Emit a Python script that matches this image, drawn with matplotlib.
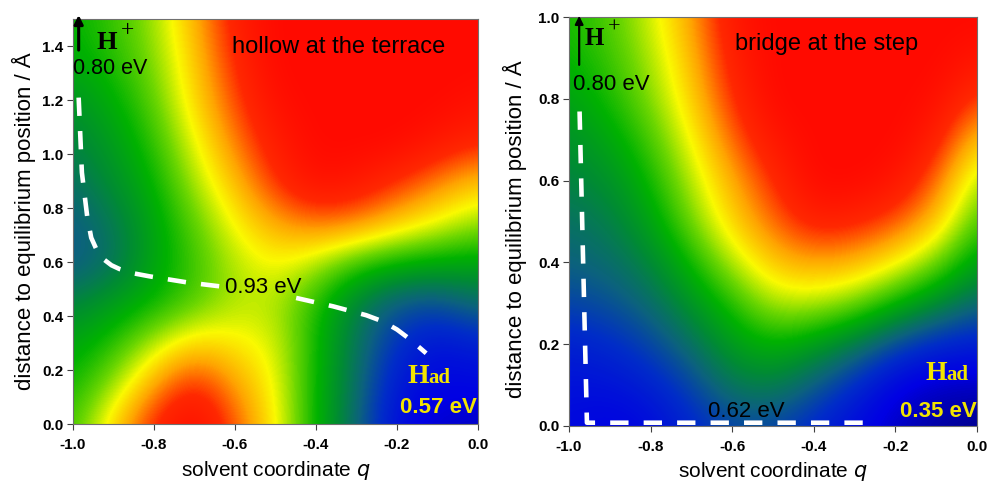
import numpy as np
import matplotlib
matplotlib.use("Agg")
import matplotlib.pyplot as plt
from matplotlib.colors import LinearSegmentedColormap

# ---------------- data ----------------
q_grid = [-1.0, -0.9, -0.8, -0.7, -0.6, -0.5, -0.4, -0.3, -0.2, -0.1, 0.0]

# hollow at the terrace: rows d = 0.00, 0.15, ..., 1.50 (relative energy 0..1)
hollow_d = [0.0, 0.15, 0.30, 0.45, 0.60, 0.75, 0.90, 1.05, 1.20, 1.35, 1.50]
hollow_energy = [
    [0.50, 0.70, 0.90, 1.00, 0.84, 0.66, 0.45, 0.28, 0.10, 0.06, 0.05],
    [0.46, 0.57, 0.76, 0.90, 0.76, 0.65, 0.45, 0.30, 0.13, 0.09, 0.10],
    [0.42, 0.48, 0.60, 0.70, 0.67, 0.63, 0.46, 0.31, 0.18, 0.12, 0.15],
    [0.34, 0.40, 0.45, 0.52, 0.60, 0.60, 0.48, 0.34, 0.25, 0.23, 0.30],
    [0.25, 0.30, 0.42, 0.50, 0.60, 0.66, 0.60, 0.50, 0.45, 0.43, 0.42],
    [0.26, 0.32, 0.42, 0.53, 0.66, 0.76, 0.82, 0.80, 0.72, 0.65, 0.58],
    [0.30, 0.37, 0.45, 0.59, 0.73, 0.88, 0.98, 0.95, 0.88, 0.80, 0.72],
    [0.34, 0.40, 0.49, 0.64, 0.80, 0.93, 1.00, 1.00, 1.00, 0.95, 0.90],
    [0.38, 0.44, 0.53, 0.69, 0.85, 0.98, 1.00, 1.00, 1.00, 1.00, 0.97],
    [0.43, 0.48, 0.56, 0.71, 0.89, 1.00, 1.00, 1.00, 1.00, 1.00, 1.00],
    [0.45, 0.50, 0.58, 0.74, 0.92, 1.00, 1.00, 1.00, 1.00, 1.00, 1.00],
]

# bridge at the step: rows d = 0.0, 0.1, ..., 1.0
bridge_d = [0.0, 0.1, 0.2, 0.3, 0.4, 0.5, 0.6, 0.7, 0.8, 0.9, 1.0]
bridge_energy = [
    [0.10, 0.08, 0.10, 0.16, 0.22, 0.22, 0.16, 0.10, 0.05, 0.02, 0.00],
    [0.12, 0.12, 0.15, 0.22, 0.32, 0.34, 0.26, 0.17, 0.08, 0.05, 0.05],
    [0.15, 0.17, 0.22, 0.30, 0.40, 0.45, 0.40, 0.32, 0.22, 0.16, 0.14],
    [0.22, 0.24, 0.29, 0.38, 0.48, 0.60, 0.60, 0.55, 0.45, 0.36, 0.28],
    [0.27, 0.29, 0.35, 0.46, 0.60, 0.72, 0.76, 0.74, 0.66, 0.55, 0.40],
    [0.30, 0.33, 0.41, 0.55, 0.70, 0.82, 0.92, 0.90, 0.84, 0.72, 0.50],
    [0.34, 0.37, 0.46, 0.60, 0.75, 0.88, 1.00, 1.00, 0.96, 0.82, 0.58],
    [0.37, 0.42, 0.51, 0.65, 0.82, 0.95, 1.00, 1.00, 1.00, 0.92, 0.70],
    [0.41, 0.47, 0.56, 0.70, 0.88, 1.00, 1.00, 1.00, 1.00, 0.98, 0.85],
    [0.45, 0.50, 0.59, 0.73, 0.92, 1.00, 1.00, 1.00, 1.00, 1.00, 0.95],
    [0.47, 0.52, 0.62, 0.76, 0.95, 1.00, 1.00, 1.00, 1.00, 1.00, 1.00],
]

# reaction paths (dashed white)
hollow_path1_q = [-0.986, -0.978, -0.965, -0.955, -0.940, -0.926, -0.905,
                  -0.885, -0.850, -0.811, -0.72, -0.638]
hollow_path1_d = [1.209, 0.931, 0.770, 0.690, 0.640, 0.612, 0.588,
                  0.574, 0.558, 0.547, 0.525, 0.510]
hollow_path2_q = [-0.449, -0.358, -0.276, -0.235, -0.20, -0.169, -0.128]
hollow_path2_d = [0.467, 0.436, 0.403, 0.380, 0.350, 0.315, 0.262]
bridge_path_q = [-0.974, -0.956, -0.25]
bridge_path_d = [0.769, 0.008, 0.008]

x_ticks = [-1.0, -0.8, -0.6, -0.4, -0.2, 0.0]
hollow_yticks = [0.0, 0.2, 0.4, 0.6, 0.8, 1.0, 1.2, 1.4]
bridge_yticks = [0.0, 0.2, 0.4, 0.6, 0.8, 1.0]

# ---------------- style ----------------
stops = [
    (0.00, (0, 0, 140)),
    (0.08, (0, 0, 228)),
    (0.18, (0, 45, 200)),
    (0.27, (12, 98, 125)),
    (0.36, (0, 140, 50)),
    (0.45, (0, 178, 0)),
    (0.55, (110, 215, 0)),
    (0.65, (250, 250, 0)),
    (0.76, (255, 165, 0)),
    (0.88, (255, 40, 0)),
    (1.00, (255, 10, 0)),
]
cmap = LinearSegmentedColormap.from_list(
    "pes", [(s, tuple(c / 255 for c in col)) for s, col in stops])

SANS = ["Liberation Sans", "DejaVu Sans"]
SERIF = ["Liberation Serif", "DejaVu Serif"]
YEL = "#f2e400"

fig = plt.figure(figsize=(9.89, 4.82), dpi=100)
ax1 = fig.add_axes([0.0738, 0.1203, 0.4095, 0.8402])
ax2 = fig.add_axes([0.5753, 0.1162, 0.4126, 0.8485])


def draw_map(ax, energy, dvals, ymax, yticks):
    z = np.array(energy)
    dq = q_grid[1] - q_grid[0]
    dd = dvals[1] - dvals[0]
    ax.imshow(z, origin="lower", cmap=cmap, vmin=0, vmax=1, aspect="auto",
              interpolation="bicubic", interpolation_stage="data",
              extent=[q_grid[0] - dq / 2, q_grid[-1] + dq / 2,
                      dvals[0] - dd / 2, dvals[-1] + dd / 2])
    ax.set_xlim(-1.0, 0.0)
    ax.set_ylim(0.0, ymax)
    ax.set_xticks(x_ticks)
    ax.set_xticklabels([f"{t:.1f}" for t in x_ticks])
    ax.set_yticks(yticks)
    ax.set_yticklabels([f"{t:.1f}" for t in yticks])
    ax.tick_params(direction="out", length=4, width=0.8, color="#404040",
                   labelsize=11)
    ax.tick_params(axis="x", pad=6)
    ax.tick_params(axis="y", pad=3)
    for lab in ax.get_xticklabels() + ax.get_yticklabels():
        lab.set_family(SANS)
        lab.set_fontweight("bold")
    for sp in ax.spines.values():
        sp.set_color("#707070")
        sp.set_linewidth(0.8)
    ax.set_xlabel("solvent coordinate $\\mathit{q}$", fontsize=15, family=SANS)
    ax.set_ylabel("distance to equilibrium position / Å", fontsize=16,
                  family=SANS, va="center")


draw_map(ax1, hollow_energy, hollow_d, 1.5, hollow_yticks)
draw_map(ax2, bridge_energy, bridge_d, 1.0, bridge_yticks)

ax1.xaxis.set_label_coords(0.5, -0.087)
ax2.xaxis.set_label_coords(0.5, -0.082)
ax1.yaxis.set_label_coords(-0.121, 0.50)
ax2.yaxis.set_label_coords(-0.132, 0.48)

dash_kw = dict(color="white", lw=3.3, dashes=(4.0, 3.3), solid_capstyle="butt",
               dash_capstyle="butt", dash_joinstyle="round", clip_on=False,
               zorder=3)
ax1.plot(hollow_path1_q, hollow_path1_d, **dash_kw)
ax1.plot(hollow_path2_q, hollow_path2_d, **dash_kw)
ax2.plot(bridge_path_q, bridge_path_d, **dash_kw)

# arrows
ax1.annotate("", xy=(-0.986, 1.515), xytext=(-0.986, 1.385),
             arrowprops=dict(arrowstyle="-|>", lw=2.2, color="black",
                             mutation_scale=13, shrinkA=0, shrinkB=0),
             annotation_clip=False, zorder=4)
ax2.annotate("", xy=(-0.975, 1.003), xytext=(-0.975, 0.883),
             arrowprops=dict(arrowstyle="-|>", lw=1.6, color="black",
                             mutation_scale=12, shrinkA=0, shrinkB=0),
             annotation_clip=False, zorder=4)


def had(ax, q, d):
    h = ax.text(q, d, "H", fontsize=20, fontweight="bold", family=SERIF,
                color=YEL, va="baseline", ha="left")
    ax.annotate("ad", xy=(1, 0), xycoords=h, xytext=(0, 1),
                textcoords="offset points", fontsize=15, fontweight="bold",
                family=SERIF, color=YEL, va="bottom", ha="left")


# texts, left panel
ax1.text(-0.941, 1.39, "H", fontsize=19, fontweight="bold", family=SERIF,
         color="black", va="baseline", ha="left")
ax1.text(-0.881, 1.437, "+", fontsize=17, family=SERIF, color="black",
         va="baseline", ha="left")
ax1.text(-0.999, 1.297, "0.80 eV", fontsize=15.5, family=SANS, color="black",
         va="baseline", ha="left")
ax1.text(-0.607, 1.374, "hollow at the terrace", fontsize=17, family=SANS,
         color="black", va="baseline", ha="left")
ax1.text(-0.625, 0.485, "0.93 eV", fontsize=16, family=SANS, color="black",
         va="baseline", ha="left")
had(ax1, -0.175, 0.152)
ax1.text(-0.193, 0.041, "0.57 eV", fontsize=16, fontweight="bold",
         family=SANS, color=YEL, va="baseline", ha="left", clip_on=True)

# texts, right panel
ax2.text(-0.961, 0.932, "H", fontsize=18, fontweight="bold", family=SERIF,
         color="black", va="baseline", ha="left")
ax2.text(-0.904, 0.962, "+", fontsize=16, family=SERIF, color="black",
         va="baseline", ha="left")
ax2.text(-0.99, 0.822, "0.80 eV", fontsize=16, family=SANS, color="black",
         va="baseline", ha="left")
ax2.text(-0.593, 0.919, "bridge at the step", fontsize=17, family=SANS,
         color="black", va="baseline", ha="left")
ax2.text(-0.659, 0.022, "0.62 eV", fontsize=16, family=SANS, color="black",
         va="baseline", ha="left")
had(ax2, -0.127, 0.112)
ax2.text(-0.189, 0.022, "0.35 eV", fontsize=16, fontweight="bold",
         family=SANS, color=YEL, va="baseline", ha="left", clip_on=True)

fig.savefig("out.png", dpi=100)
